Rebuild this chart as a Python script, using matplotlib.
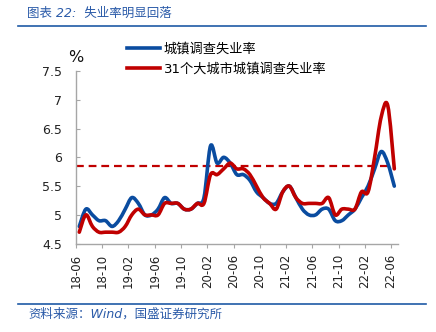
import numpy as np
import pandas as pd
import matplotlib
matplotlib.use("Agg")
import matplotlib.pyplot as plt
from matplotlib.path import Path
from matplotlib.patches import PathPatch
from matplotlib.lines import Line2D

plt.rcParams['font.family'] = ['DejaVu Sans', 'Noto Sans CJK SC']

# monthly, 2018-06 .. 2022-06
months = pd.period_range('2018-06', '2022-06', freq='M').strftime('%y-%m').tolist()

urban = [4.8, 5.1, 5.0, 4.9, 4.9, 4.8, 4.9,
         5.1, 5.3, 5.2, 5.0, 5.0, 5.1, 5.3, 5.2, 5.2, 5.1, 5.1, 5.2,
         5.3, 6.2, 5.9, 6.0, 5.9, 5.7, 5.7, 5.6, 5.4, 5.3, 5.2, 5.2,
         5.4, 5.5, 5.3, 5.1, 5.0, 5.0, 5.1, 5.1, 4.9, 4.9, 5.0, 5.1,
         5.3, 5.5, 5.8, 6.1, 5.9, 5.5]

city31 = [4.7, 5.0, 4.8, 4.7, 4.7, 4.7, 4.7,
          4.8, 5.0, 5.1, 5.0, 5.0, 5.0, 5.2, 5.2, 5.2, 5.1, 5.1, 5.2,
          5.2, 5.7, 5.7, 5.8, 5.9, 5.8, 5.8, 5.7, 5.5, 5.3, 5.2, 5.1,
          5.4, 5.5, 5.3, 5.2, 5.2, 5.2, 5.2, 5.3, 5.0, 5.1, 5.1, 5.1,
          5.4, 5.4, 6.0, 6.7, 6.9, 5.8]

ref_level = 5.85
labels = ['城镇调查失业率', '31个大城市城镇调查失业率']
colors = ['#0a4ca0', '#c00000']

BLUE_TXT = '#2a5aa8'


def smooth_path(x, y):
    # catmull-rom -> cubic bezier, like excel's smoothed line
    n = len(x)
    verts = [(x[0], y[0])]
    codes = [Path.MOVETO]
    for k in range(n - 1):
        a = max(k - 1, 0)
        d = min(k + 2, n - 1)
        c1 = (x[k] + (x[k + 1] - x[a]) / 6, y[k] + (y[k + 1] - y[a]) / 6)
        c2 = (x[k + 1] - (x[d] - x[k]) / 6, y[k + 1] - (y[d] - y[k]) / 6)
        verts += [c1, c2, (x[k + 1], y[k + 1])]
        codes += [Path.CURVE4] * 3
    return Path(verts, codes)


fig = plt.figure(figsize=(4.36, 3.32), dpi=100)
ax = fig.add_axes([0.1743, 0.266, 0.7376, 0.5202])

xs = np.arange(len(months))
ax.hlines(ref_level, -0.5, len(months) - 1.4, colors='#c00000', lw=1.6,
          linestyles=(0, (3.5, 2.2)), zorder=1)

for series, c, z in [(urban, colors[0], 2), (city31, colors[1], 3)]:
    p = PathPatch(smooth_path(xs, series), fill=False, edgecolor=c, lw=2.6,
                  capstyle='round', joinstyle='round', zorder=z)
    ax.add_patch(p)

ax.set_xlim(-0.5, len(months) - 0.5)
ax.set_ylim(4.5, 7.5)
ax.set_yticks([4.5, 5, 5.5, 6, 6.5, 7, 7.5])
ax.set_yticklabels(['4.5', '5', '5.5', '6', '6.5', '7', '7.5'])

tick_pos = xs[::4] - 0.5
ax.set_xticks(tick_pos)
ax.set_xticklabels(months[::4], rotation=90)

for s in ['top', 'right']:
    ax.spines[s].set_visible(False)
for s in ['left', 'bottom']:
    ax.spines[s].set_color('#a6a6a6')
    ax.spines[s].set_linewidth(1.0)
ax.tick_params(axis='y', direction='in', length=3, color='#a6a6a6', pad=10,
               labelsize=9, labelcolor='#222222')
ax.tick_params(axis='x', direction='out', length=3, color='#a6a6a6', pad=4.5,
               labelsize=8.5, labelcolor='#222222')

handles = [Line2D([], [], color=c, lw=2.6) for c in colors]
fig.legend(handles, labels, loc='upper left', bbox_to_anchor=(127 / 436, 1 - 43 / 332),
           frameon=False, fontsize=9.5, handlelength=2.5, handletextpad=0.3,
           labelspacing=0.5, borderpad=0, borderaxespad=0)

fig.text(75.5 / 436, 1 - 57 / 332, '%', fontsize=11.5, ha='center', va='center',
         color='#111111')

# header / footer
fig.text(27 / 436, 1 - 13 / 332, '图表 22:  失业率明显回落', fontsize=9,
         color=BLUE_TXT, style='italic', va='center', ha='left')
fig.add_artist(Line2D([18 / 436, 426 / 436], [1 - 26 / 332, 1 - 26 / 332],
                      color='#1f5aa6', lw=1.2))
fig.add_artist(Line2D([18 / 436, 426 / 436], [1 - 304 / 332, 1 - 304 / 332],
                      color='#1f5aa6', lw=1.2))
fig.text(28 / 436, 1 - 314 / 332, '资料来源：Wind，国盛证券研究所', fontsize=9,
         color=BLUE_TXT, style='italic', va='center', ha='left')

fig.savefig('out.png', dpi=100)
